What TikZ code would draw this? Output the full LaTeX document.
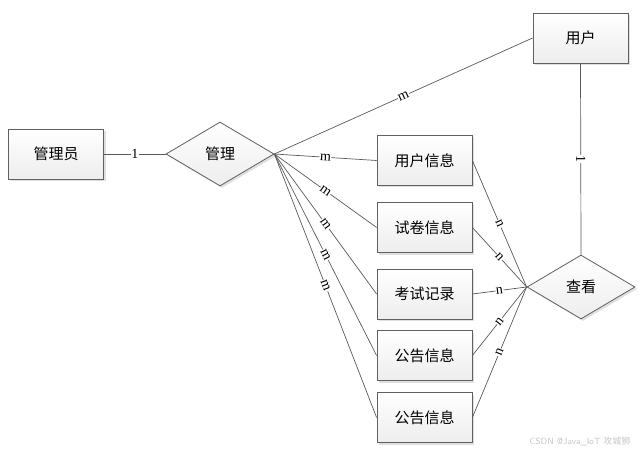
\documentclass[tikz,border=0pt]{standalone}
\usepackage{fontspec}
\setmainfont{Liberation Serif}
\newfontfamily\cjk{Noto Sans CJK SC}
\usetikzlibrary{shapes.geometric,shadows}
\begin{document}
\begin{tikzpicture}[x=1pt,y=-1pt,
  ent/.style={rectangle,draw=gray!75!black,line width=0.8pt,top color=white,bottom color=gray!14,
    minimum width=95pt,minimum height=50pt,font=\cjk\fontsize{15}{17}\selectfont,inner sep=0pt,
    drop shadow={opacity=0.25,shadow xshift=2pt,shadow yshift=-2pt}},
  rel/.style={diamond,draw=gray!75!black,line width=0.8pt,top color=white,bottom color=gray!14,
    minimum width=108pt,minimum height=64pt,shape aspect=1.69,font=\cjk\fontsize{15}{17}\selectfont,inner sep=0pt,
    drop shadow={opacity=0.25,shadow xshift=2pt,shadow yshift=-2pt}},
  conn/.style={draw=gray!70!black,line width=0.7pt},
  lab/.style={font=\fontsize{14}{15}\selectfont,fill=white,inner sep=0.5pt,sloped,pos=0.5}
]
\useasboundingbox (0,0) rectangle (639,454);
\node[ent] (admin) at (56,154) {管理员};
\node[rel] (manage) at (220,154) {管理};
\node[ent] (user) at (580.5,38) {用户};
\node[rel] (view) at (581,287) {查看};
\node[ent] (e1) at (424.5,160.5) {用户信息};
\node[ent] (e2) at (424.5,227.5) {试卷信息};
\node[ent] (e3) at (424.5,294) {考试记录};
\node[ent] (e4) at (424.5,355.5) {公告信息};
\node[ent] (e5) at (424.5,417.5) {公告信息};

\draw[conn] (admin.east) -- node[lab]{1} (manage.west);
\draw[conn] (manage.east) -- node[lab]{m} (user.west);
\draw[conn] (user.south) -- node[lab]{1} (view.north);
\foreach \e in {e1,e2,e3,e4,e5}{
  \draw[conn] (manage.east) -- node[lab]{m} (\e.west);
  \draw[conn] (\e.east) -- node[lab]{n} (view.west);
}
\node[text=gray!45,font=\sffamily\fontsize{9}{10}\selectfont,anchor=east] (wm) at (634,441) {CSDN @Java\_IoT {\cjk 攻城狮}};
\end{tikzpicture}
\end{document}
